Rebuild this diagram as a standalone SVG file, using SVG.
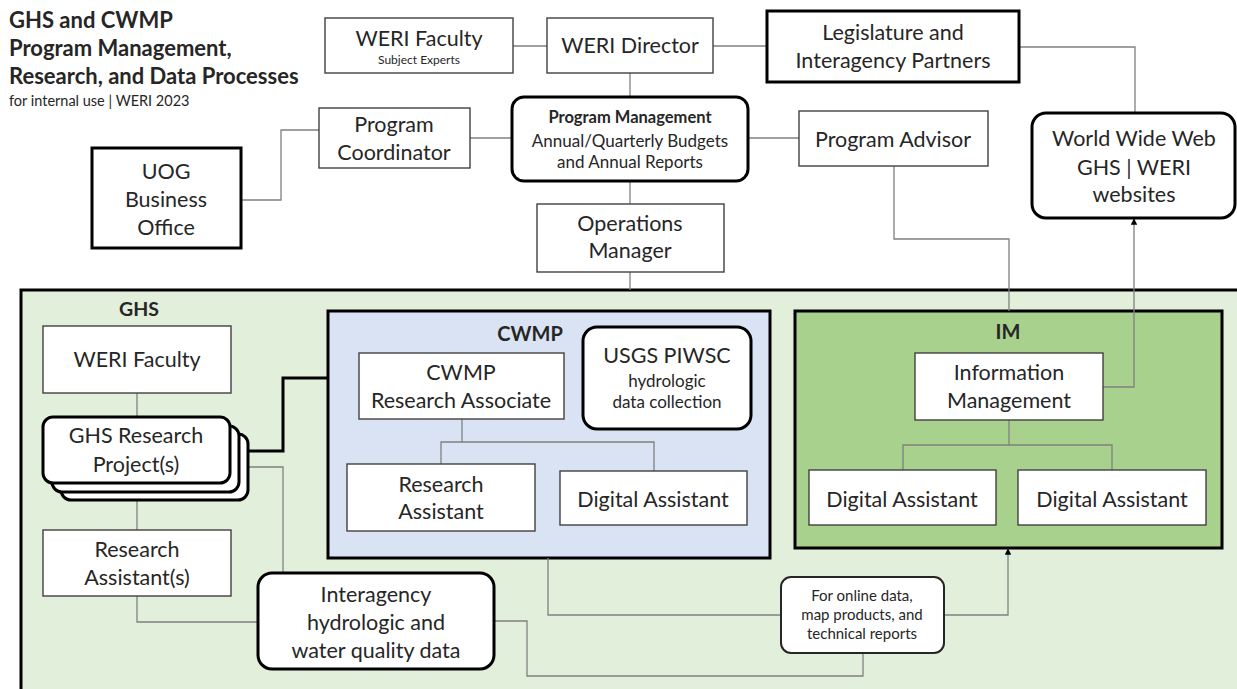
<svg xmlns="http://www.w3.org/2000/svg" width="1237" height="689" viewBox="0 0 1237 689">
  <defs>
    <style>
      text { font-family: Lato, "Liberation Sans", sans-serif; fill: #262626; text-anchor: middle; }
      .box { fill: #ffffff; stroke: #404040; stroke-width: 1.4; }
      .strong { fill: #ffffff; stroke: #000000; stroke-width: 3; }
      .ln { fill: none; stroke: #808080; stroke-width: 1.3; }
      .thick { fill: none; stroke: #000000; stroke-width: 3; }
      .n { font-size: 21.5px; }
      .s { font-size: 17px; }
      .xs { font-size: 12px; }
      .b { font-weight: bold; }
      .title { font-size: 22px; font-weight: bold; text-anchor: start; fill: #262626; }
    </style>
    <marker id="arrow" viewBox="0 0 10 10" refX="9" refY="5" markerWidth="5" markerHeight="5" orient="auto">
      <path d="M0,0 L10,5 L0,10 z" fill="#000000"/>
    </marker>
  </defs>

  <rect width="1237" height="689" fill="#ffffff"/>

  <!-- heading -->
  <g id="heading">
    <text class="title" x="9" y="28">GHS and CWMP</text>
    <text class="title" x="9" y="56">Program Management,</text>
    <text class="title" x="9" y="84">Research, and Data Processes</text>
    <text x="9" y="106" style="font-size:14.5px;text-anchor:start">for internal use | WERI 2023</text>
  </g>

  <!-- program areas -->
  <g id="area-ghs">
    <rect x="21" y="290" width="1240" height="420" fill="#e2efda" stroke="#000000" stroke-width="3"/>
    <text class="b" x="139" y="316" style="font-size:19.5px">GHS</text>
  </g>
  <g id="area-cwmp">
    <rect x="328" y="311" width="442" height="247" fill="#dae3f3" stroke="#000000" stroke-width="3"/>
    <text class="b" x="530" y="341" style="font-size:20px">CWMP</text>
  </g>
  <g id="area-im">
    <rect x="795" y="311" width="427" height="237" fill="#a9d18e" stroke="#000000" stroke-width="3"/>
    <text class="b" x="1008" y="339" style="font-size:20px">IM</text>
  </g>

  <!-- connectors -->
  <g id="connectors">
    <path class="ln" d="M513,46 H547"/>
    <path class="ln" d="M713,46 H767"/>
    <path class="ln" d="M1019,47 H1135 V113"/>
    <path class="ln" d="M630,73 V97"/>
    <path class="ln" d="M470,138 H512"/>
    <path class="ln" d="M748,138 H799"/>
    <path class="ln" d="M241,200 H281 V130 H319"/>
    <path class="ln" d="M630,181 V204"/>
    <path class="ln" d="M630,272 V290"/>
    <path class="ln" d="M894,166 V239 H1009 V311"/>
    <path class="ln" d="M1103,387 H1134 V219" marker-end="url(#arrow)"/>
    <path class="ln" d="M137,393 V417"/>
    <path class="ln" d="M137,483 V530"/>
    <path class="thick" d="M248,451 H283 V378 H328"/>
    <path class="ln" d="M248,467 H283 V573"/>
    <path class="ln" d="M137,596 V622 H258"/>
    <path class="ln" d="M462,419 V442"/>
    <path class="ln" d="M441,464 V442 H654 V471"/>
    <path class="ln" d="M1009,420 V445"/>
    <path class="ln" d="M903,470 V445 H1112 V470"/>
    <path class="ln" d="M548,558 V615 H781"/>
    <path class="ln" d="M944,615 H1008 V549" marker-end="url(#arrow)"/>
    <path class="ln" d="M494,621 H527 V676 H863 V653"/>
  </g>

  <!-- top level nodes -->
  <g id="weri-faculty-top">
    <rect class="box" x="325" y="18" width="188" height="55"/>
    <text class="n" x="419" y="46">WERI Faculty</text>
    <text class="xs" x="419" y="64">Subject Experts</text>
  </g>
  <g id="weri-director">
    <rect class="box" x="547" y="18" width="166" height="55"/>
    <text class="n" x="630" y="53">WERI Director</text>
  </g>
  <g id="legislature">
    <rect class="strong" x="767" y="11" width="252" height="71"/>
    <text class="n" x="893" y="40">Legislature and</text>
    <text class="n" x="893" y="68">Interagency Partners</text>
  </g>
  <g id="program-coordinator">
    <rect class="box" x="319" y="108" width="151" height="60"/>
    <text class="n" x="394" y="132">Program</text>
    <text class="n" x="394" y="160">Coordinator</text>
  </g>
  <g id="program-management">
    <rect class="strong" x="512" y="97" width="236" height="84" rx="12"/>
    <text class="b" x="630" y="123" style="font-size:16.5px">Program Management</text>
    <text class="s" x="630" y="147">Annual/Quarterly Budgets</text>
    <text class="s" x="630" y="168">and Annual Reports</text>
  </g>
  <g id="program-advisor">
    <rect class="box" x="799" y="111" width="189" height="55"/>
    <text class="n" x="893" y="147">Program Advisor</text>
  </g>
  <g id="world-wide-web">
    <rect class="strong" x="1032" y="113" width="203" height="105" rx="14"/>
    <text class="n" x="1134" y="146">World Wide Web</text>
    <text class="n" x="1134" y="175">GHS | WERI</text>
    <text class="n" x="1134" y="202">websites</text>
  </g>
  <g id="uog-business-office">
    <rect class="strong" x="92" y="148" width="149" height="100"/>
    <text class="n" x="166" y="179">UOG</text>
    <text class="n" x="166" y="207">Business</text>
    <text class="n" x="166" y="235">Office</text>
  </g>
  <g id="operations-manager">
    <rect class="box" x="537" y="204" width="187" height="68"/>
    <text class="n" x="630" y="231">Operations</text>
    <text class="n" x="630" y="258">Manager</text>
  </g>

  <!-- GHS nodes -->
  <g id="ghs-weri-faculty">
    <rect class="box" x="43" y="326" width="188" height="67"/>
    <text class="n" x="137" y="367">WERI Faculty</text>
  </g>
  <g id="ghs-research-projects">
    <rect class="strong" x="61" y="434" width="187" height="66" rx="10"/>
    <rect class="strong" x="52" y="426" width="187" height="66" rx="10"/>
    <rect class="strong" x="43" y="417" width="187" height="66" rx="10"/>
    <text class="n" x="136" y="443">GHS Research</text>
    <text class="n" x="136" y="472">Project(s)</text>
  </g>
  <g id="ghs-research-assistants">
    <rect class="box" x="43" y="530" width="188" height="66"/>
    <text class="n" x="137" y="557">Research</text>
    <text class="n" x="137" y="585">Assistant(s)</text>
  </g>
  <g id="interagency-data">
    <rect class="strong" x="258" y="573" width="236" height="96" rx="14"/>
    <text class="n" x="376" y="602">Interagency</text>
    <text class="n" x="376" y="630">hydrologic and</text>
    <text class="n" x="376" y="658">water quality data</text>
  </g>
  <g id="online-products">
    <rect x="781" y="577" width="163" height="76" rx="10" fill="#ffffff" stroke="#262626" stroke-width="2"/>
    <text x="862" y="601" style="font-size:15px">For online data,</text>
    <text x="862" y="620" style="font-size:15px">map products, and</text>
    <text x="862" y="639" style="font-size:15px">technical reports</text>
  </g>

  <!-- CWMP nodes -->
  <g id="cwmp-research-associate">
    <rect class="box" x="359" y="353" width="205" height="66"/>
    <text class="n" x="461" y="380">CWMP</text>
    <text class="n" x="461" y="408">Research Associate</text>
  </g>
  <g id="usgs-piwsc">
    <rect class="strong" x="583" y="327" width="168" height="102" rx="14"/>
    <text class="n" x="667" y="363">USGS PIWSC</text>
    <text class="s" x="667" y="387">hydrologic</text>
    <text class="s" x="667" y="408">data collection</text>
  </g>
  <g id="cwmp-research-assistant">
    <rect class="box" x="347" y="464" width="188" height="67"/>
    <text class="n" x="441" y="492">Research</text>
    <text class="n" x="441" y="519">Assistant</text>
  </g>
  <g id="cwmp-digital-assistant">
    <rect class="box" x="560" y="471" width="187" height="54"/>
    <text class="n" x="653" y="507">Digital Assistant</text>
  </g>

  <!-- IM nodes -->
  <g id="information-management">
    <rect class="box" x="915" y="353" width="188" height="67"/>
    <text class="n" x="1009" y="380">Information</text>
    <text class="n" x="1009" y="408">Management</text>
  </g>
  <g id="im-digital-assistant-1">
    <rect class="box" x="809" y="470" width="187" height="55"/>
    <text class="n" x="902" y="507">Digital Assistant</text>
  </g>
  <g id="im-digital-assistant-2">
    <rect class="box" x="1018" y="470" width="188" height="55"/>
    <text class="n" x="1112" y="507">Digital Assistant</text>
  </g>
</svg>
